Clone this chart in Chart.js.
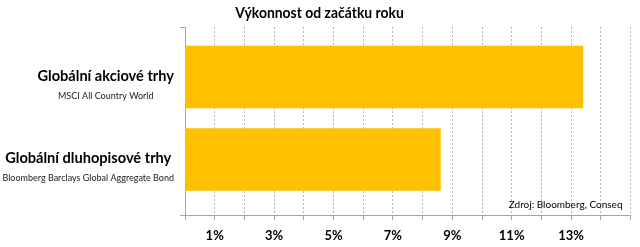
<!DOCTYPE html>
<html>
<head>
<meta charset="utf-8">
<script src="https://cdn.jsdelivr.net/npm/chart.js@4/dist/chart.umd.min.js"></script>
<style>
  html, body { margin: 0; padding: 0; background: #fff; }
  canvas { display: block; }
</style>
</head>
<body>
<canvas id="chartCanvas" width="640" height="247"></canvas>
<script>
// --- data ---
const chartTitle = "Výkonnost od začátku roku";
const categories = ["Globální akciové trhy", "Globální dluhopisové trhy"];
const subLabels = ["MSCI All Country World", "Bloomberg Barclays Global Aggregate Bond"];
const ytdReturn = [13.4, 8.6];
const labelledTicks = [1, 3, 5, 7, 9, 11, 13];
const sourceNote = "Zdroj: Bloomberg, Conseq";

const FONT = "Lato, 'Open Sans', sans-serif";
const barColor = "#FFC000";
const gridColor = "#b8b8b8";
const axisColor = "#a6a6a6";

// texts that chart.js can't lay out the way Excel did
const labelsPlugin = {
  id: "labels",
  afterDraw(chart) {
    const { ctx, chartArea, scales } = chart;
    const y = scales.y;
    ctx.save();

    // title (squeezed a bit, the original font is narrower)
    ctx.save();
    ctx.fillStyle = "#000";
    ctx.font = "bold 16px " + FONT;
    ctx.textAlign = "center";
    ctx.textBaseline = "alphabetic";
    ctx.translate(319.5, 18);
    ctx.scale(0.87, 1);
    ctx.fillText(chartTitle, 0, 0);
    ctx.restore();

    ctx.textAlign = "center";
    ctx.textBaseline = "middle";

    // category labels, two lines each, centered on the widest line
    categories.forEach((name, i) => {
      const cy = y.getPixelForValue(i);
      ctx.font = "bold 14.6px " + FONT;
      const w1 = ctx.measureText(name).width;
      ctx.font = "9px " + FONT;
      const w2 = ctx.measureText(subLabels[i]).width;
      const cx = 174 - Math.max(w1, w2) / 2;

      ctx.fillStyle = "#000";
      ctx.font = "bold 14.6px " + FONT;
      ctx.fillText(name, cx, cy - 1);
      ctx.fillStyle = "#222";
      ctx.font = "9px " + FONT;
      ctx.fillText(subLabels[i], cx, cy + 19);
    });

    // little tick marks on the category axis
    ctx.strokeStyle = axisColor;
    ctx.lineWidth = 1;
    ctx.beginPath();
    ctx.moveTo(chartArea.left - 5, chartArea.top + 0.5);
    ctx.lineTo(chartArea.left, chartArea.top + 0.5);
    ctx.moveTo(chartArea.left - 5, chartArea.bottom + 0.5);
    ctx.lineTo(chartArea.left, chartArea.bottom + 0.5);
    ctx.stroke();

    // source
    ctx.fillStyle = "#000";
    ctx.font = "10px " + FONT;
    ctx.textAlign = "right";
    ctx.fillText(sourceNote, chartArea.right - 8, chartArea.bottom - 10);
    ctx.restore();
  }
};

new Chart(document.getElementById("chartCanvas"), {
  type: "bar",
  data: {
    datasets: [{
      data: ytdReturn.map((v, i) => ({ x: v, y: i })),
      backgroundColor: barColor,
      borderWidth: 0,
      barThickness: 62
    }]
  },
  options: {
    indexAxis: "y",
    responsive: false,
    animation: false,
    devicePixelRatio: 1,
    layout: { padding: { top: 27, right: 9.5, left: 0, bottom: 0 } },
    plugins: {
      legend: { display: false },
      tooltip: { enabled: false }
    },
    scales: {
      x: {
        type: "linear",
        position: "bottom",
        min: 0,
        max: 15,
        offset: false,
        ticks: {
          stepSize: 1,
          autoSkip: false,
          maxRotation: 0,
          color: "#000",
          font: { family: FONT, size: 13, weight: "bold" },
          padding: 8,
          callback: v => labelledTicks.includes(v) ? v + "%" : ""
        },
        grid: { color: gridColor, tickColor: axisColor, tickLength: 5, offset: false },
        border: { color: axisColor, dash: [2, 2] },
        afterFit: s => { s.height = 32; }
      },
      y: {
        type: "linear",
        reverse: true,
        offset: false,
        min: -0.606,
        max: 1.673,
        ticks: { display: false },
        grid: { display: false, offset: false },
        border: { color: axisColor },
        afterFit: s => { s.width = 185; }
      }
    }
  },
  plugins: [labelsPlugin]
});
</script>
</body>
</html>
